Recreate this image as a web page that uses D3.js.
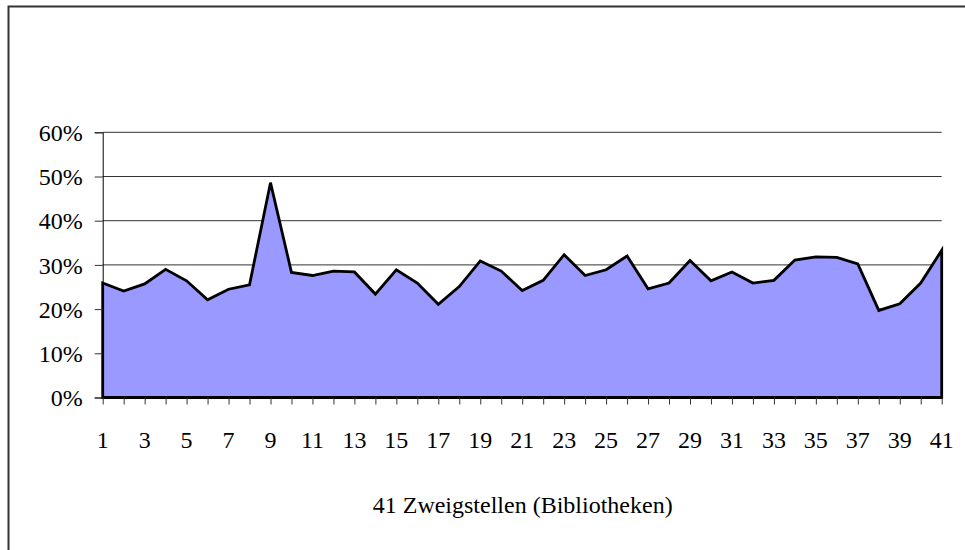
<!DOCTYPE html>
<html>
<head>
<meta charset="utf-8">
<script src="https://cdn.jsdelivr.net/npm/d3@7"></script>
<style>
  html, body { margin: 0; padding: 0; background: #fff; }
  svg { display: block; }
</style>
</head>
<body>
<div id="chart"></div>
<script>
// Branch numbers (Zweigstellen)
const branches = [1, 2, 3, 4, 5, 6, 7, 8, 9, 10, 11, 12, 13, 14, 15, 16, 17, 18, 19, 20,
  21, 22, 23, 24, 25, 26, 27, 28, 29, 30, 31, 32, 33, 34, 35, 36, 37, 38, 39, 40, 41];

// Share per branch
const shares = [0.259, 0.241, 0.257, 0.290, 0.264, 0.221, 0.245, 0.255, 0.486, 0.283,
  0.276, 0.286, 0.284, 0.234, 0.289, 0.259, 0.211, 0.251, 0.309, 0.286,
  0.242, 0.265, 0.323, 0.276, 0.289, 0.320, 0.246, 0.259, 0.310, 0.264,
  0.284, 0.259, 0.265, 0.311, 0.318, 0.317, 0.302, 0.197, 0.212, 0.259, 0.333];

const xTickLabels = [1, 3, 5, 7, 9, 11, 13, 15, 17, 19, 21, 23, 25, 27, 29, 31, 33, 35, 37, 39, 41];
const yTicks = [0, 0.1, 0.2, 0.3, 0.4, 0.5, 0.6];
const xTitle = '41 Zweigstellen (Bibliotheken)';

function drawChart() {
  const font = "'Liberation Serif', 'DejaVu Serif', serif";
  const W = 965, H = 550;
  const left = 102.7, right = 941.7, top = 132.3, bottom = 397.5;

  const svg = d3.select('#chart').append('svg')
    .attr('width', W)
    .attr('height', H)
    .attr('font-family', font);

  // outer chart frame
  svg.append('rect')
    .attr('x', 8.5).attr('y', 6.5)
    .attr('width', 965).attr('height', 560)
    .attr('fill', '#fff')
    .attr('stroke', '#333')
    .attr('stroke-width', 2);

  const rows = branches.map((b, i) => ({ b, v: shares[i] }));

  const x = d3.scaleLinear().domain([1, 41]).range([left, right]);
  const y = d3.scaleLinear().domain([0, 0.6]).range([bottom, top]);

  // gridlines
  svg.append('g')
    .selectAll('line')
    .data(yTicks.filter(d => d > 0))
    .join('line')
    .attr('x1', left).attr('x2', right)
    .attr('y1', d => y(d)).attr('y2', d => y(d))
    .attr('stroke', '#333')
    .attr('stroke-width', 1);

  // area
  const area = d3.area()
    .x(d => x(d.b))
    .y0(y(0))
    .y1(d => y(d.v));

  svg.append('path')
    .datum(rows)
    .attr('d', area)
    .attr('fill', '#9999ff')
    .attr('stroke', '#000')
    .attr('stroke-width', 2.8)
    .attr('stroke-linejoin', 'miter');

  // y axis
  const yAxis = svg.append('g')
    .attr('transform', `translate(${left},0)`)
    .call(d3.axisLeft(y).tickValues(yTicks).tickSize(8).tickPadding(12)
      .tickFormat(d3.format('.0%')));
  yAxis.attr('font-family', font);
  yAxis.select('.domain').attr('stroke', '#000').attr('stroke-width', 1);
  yAxis.selectAll('.tick line').attr('stroke', '#333');
  yAxis.selectAll('text')
    .attr('fill', '#000')
    .attr('font-size', '24px')
    .attr('font-family', font)
    .attr('dy', '0.34em');

  // x axis ticks (every branch)
  const xAxis = svg.append('g')
    .attr('transform', `translate(0,${bottom})`)
    .call(d3.axisBottom(x).tickValues(branches).tickSize(7).tickFormat(''));
  xAxis.select('.domain').remove();
  xAxis.selectAll('.tick line').attr('stroke', '#333');

  // x tick labels (odd branches)
  svg.append('g')
    .selectAll('text')
    .data(xTickLabels)
    .join('text')
    .attr('x', d => x(d))
    .attr('y', 448)
    .attr('text-anchor', 'middle')
    .attr('font-family', font)
    .attr('font-size', '24px')
    .attr('fill', '#000')
    .text(d => d);

  // x title
  svg.append('text')
    .attr('x', (left + right) / 2 + 0.5)
    .attr('y', 513)
    .attr('text-anchor', 'middle')
    .attr('font-family', font)
    .attr('font-size', '24px')
    .attr('fill', '#000')
    .text(xTitle);
}

drawChart();
</script>
</body>
</html>
